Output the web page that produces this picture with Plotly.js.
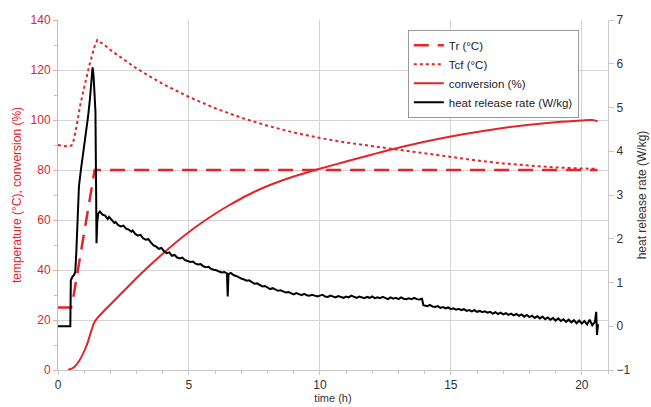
<!DOCTYPE html>
<html><head><meta charset="utf-8">
<script src="https://cdn.plot.ly/plotly-3.0.1.min.js"></script>
<style>html,body{margin:0;padding:0;background:#fff}#c{width:651px;height:407px}</style>
</head><body><div id="c"></div>
<script>
// Tr (°C)
const trT = [0, 0.5, 0.6, 1.4, 20.6];
const trV = [25, 25, 30, 80, 80];
// Tcf (°C)
const tcfT = [0, 0.3, 0.52, 0.6, 0.7, 0.85, 1.0, 1.2, 1.4, 1.5, 1.86, 2, 3, 4, 5, 6, 7, 8, 9, 10, 11, 12, 13, 14, 15, 16, 17, 18, 19, 20, 20.5];
const tcfV = [90, 89.5, 89.8, 92, 97, 106, 113, 122, 129.5, 132, 129.3, 128, 120.6, 114.4, 109.2, 104.7, 100.9, 97.7, 95, 92.8, 91, 89.5, 88, 86.6, 85.2, 83.8, 82.6, 81.7, 81, 80.6, 80.5];
// conversion (%)
const convT = [0.38, 0.6, 0.83, 1.1, 1.4, 1.7, 2, 2.5, 3, 3.5, 4, 4.5, 5, 5.5, 6, 6.5, 7, 7.5, 8, 8.5, 9, 9.5, 10, 11, 12, 13, 14, 15, 16, 17, 18, 19, 20, 20.4, 20.6];
const convV = [0, 1, 4, 10, 19.3, 23, 26.2, 31.5, 36.8, 41.8, 46.5, 51, 55.2, 59, 62.5, 65.7, 68.6, 71.3, 73.6, 75.6, 77.4, 79, 80.5, 83.4, 86.2, 88.9, 91.3, 93.4, 95.2, 96.8, 98.1, 99.1, 99.8, 100, 99.5];
// heat release rate (W/kg)
const hrrT = [0, 0.3, 0.47, 0.49, 0.55, 0.62, 0.66, 0.7, 0.75, 0.8, 0.88, 0.95, 1.05, 1.15, 1.22, 1.28, 1.32, 1.36, 1.4, 1.43, 1.45, 1.47, 1.5, 1.54, 1.6, 1.7, 1.8, 1.9, 1.95, 2.05, 2.15, 2.2, 2.3, 2.4, 2.5, 2.6, 2.7, 2.8, 2.85, 2.95, 3.05, 3.15, 3.25, 3.35, 3.45, 3.55, 3.65, 3.75, 3.85, 3.95, 4.05, 4.15, 4.25, 4.35, 4.45, 4.55, 4.65, 4.75, 4.85, 4.95, 5.05, 5.15, 5.25, 5.35, 5.45, 5.55, 5.65, 5.75, 5.85, 5.95, 6.05, 6.15, 6.25, 6.35, 6.45, 6.48, 6.51, 6.6, 6.7, 6.8, 6.9, 7.0, 7.1, 7.2, 7.3, 7.4, 7.5, 7.6, 7.7, 7.8, 7.9, 8.0, 8.1, 8.2, 8.3, 8.4, 8.5, 8.6, 8.7, 8.8, 8.9, 9.0, 9.1, 9.2, 9.3, 9.4, 9.5, 9.6, 9.7, 9.8, 9.9, 10.0, 10.1, 10.2, 10.3, 10.4, 10.5, 10.6, 10.7, 10.8, 10.9, 11.0, 11.1, 11.2, 11.3, 11.4, 11.5, 11.6, 11.7, 11.8, 11.9, 12.0, 12.1, 12.2, 12.3, 12.4, 12.5, 12.6, 12.7, 12.8, 12.9, 13.0, 13.1, 13.2, 13.3, 13.4, 13.5, 13.6, 13.7, 13.8, 13.9, 13.95, 14.1, 14.2, 14.3, 14.4, 14.5, 14.6, 14.7, 14.8, 14.9, 15.0, 15.1, 15.2, 15.3, 15.4, 15.5, 15.6, 15.7, 15.8, 15.9, 16.0, 16.1, 16.2, 16.3, 16.4, 16.5, 16.6, 16.7, 16.8, 16.9, 17.0, 17.1, 17.2, 17.3, 17.4, 17.5, 17.6, 17.7, 17.8, 17.9, 18.0, 18.1, 18.2, 18.3, 18.4, 18.5, 18.6, 18.7, 18.8, 18.9, 19.0, 19.1, 19.2, 19.3, 19.4, 19.5, 19.6, 19.7, 19.8, 19.9, 20.0, 20.1, 20.2, 20.3, 20.4, 20.5, 20.55, 20.58, 20.62];
const hrrV = [0, 0, 0, 1.05, 1.13, 1.18, 1.25, 1.7, 2.6, 3.2, 3.6, 3.9, 4.3, 4.8, 5.2, 5.6, 5.92, 5.7, 5.2, 4.9, 3.5, 1.9, 2.4, 2.58, 2.62, 2.55, 2.53, 2.45, 2.5, 2.43, 2.36, 2.38, 2.31, 2.28, 2.3, 2.23, 2.21, 2.16, 2.19, 2.11, 2.07, 2.09, 2.01, 1.98, 1.99, 1.91, 1.85, 1.82, 1.77, 1.79, 1.71, 1.67, 1.69, 1.61, 1.63, 1.57, 1.55, 1.57, 1.51, 1.49, 1.47, 1.48, 1.43, 1.41, 1.42, 1.37, 1.35, 1.36, 1.31, 1.29, 1.28, 1.25, 1.23, 1.24, 1.21, 0.68, 1.19, 1.22, 1.17, 1.15, 1.11, 1.09, 1.07, 1.04, 1.05, 1.0, 0.97, 0.98, 0.94, 0.91, 0.92, 0.88, 0.85, 0.87, 0.83, 0.81, 0.82, 0.79, 0.77, 0.78, 0.75, 0.73, 0.76, 0.73, 0.71, 0.74, 0.71, 0.7, 0.72, 0.7, 0.68, 0.7, 0.72, 0.68, 0.67, 0.7, 0.68, 0.66, 0.69, 0.67, 0.65, 0.68, 0.66, 0.7, 0.67, 0.65, 0.68, 0.66, 0.64, 0.67, 0.65, 0.68, 0.64, 0.66, 0.64, 0.67, 0.64, 0.62, 0.66, 0.63, 0.65, 0.62, 0.66, 0.63, 0.62, 0.64, 0.62, 0.65, 0.62, 0.61, 0.63, 0.48, 0.46, 0.49, 0.45, 0.44, 0.46, 0.42, 0.44, 0.41, 0.43, 0.39, 0.41, 0.38, 0.4, 0.37, 0.39, 0.35, 0.37, 0.34, 0.37, 0.33, 0.35, 0.32, 0.34, 0.31, 0.33, 0.29, 0.32, 0.28, 0.31, 0.27, 0.3, 0.26, 0.29, 0.25, 0.28, 0.24, 0.27, 0.22, 0.26, 0.21, 0.24, 0.19, 0.23, 0.18, 0.22, 0.16, 0.2, 0.15, 0.19, 0.13, 0.18, 0.12, 0.16, 0.1, 0.15, 0.09, 0.14, 0.07, 0.13, 0.06, 0.12, 0.04, 0.15, 0.02, 0.1, 0.33, -0.2, 0.05];

const RED = '#e3242b';
const FONT = 'Liberation Sans, Arial, sans-serif';

const traces = [
  {x: trT, y: trV, name: 'Tr (°C)', mode: 'lines', line: {color: RED, width: 2.5, dash: '15px,9px'}},
  {x: tcfT, y: tcfV, name: 'Tcf (°C)', mode: 'lines', line: {color: RED, width: 2, dash: 'dot'}},
  {x: convT, y: convV, name: 'conversion (%)', mode: 'lines', line: {color: RED, width: 2, shape: 'spline', smoothing: 0.8}},
  {x: hrrT, y: hrrV, name: 'heat release rate (W/kg)', mode: 'lines', yaxis: 'y2', line: {color: '#000', width: 2}}
];

const layout = {
  width: 651, height: 407,
  margin: {l: 58, r: 43, t: 20, b: 37},
  paper_bgcolor: '#fff', plot_bgcolor: '#fff',
  font: {family: FONT, size: 12, color: '#333'},
  showlegend: true,
  legend: {x: 0.636, y: 0.972, xanchor: 'left', yanchor: 'top', bgcolor: '#fff', bordercolor: '#999', borderwidth: 1,
           font: {family: FONT, size: 11.5, color: '#222'}, tracegroupgap: 0},
  xaxis: {range: [0, 21], dtick: 5, tick0: 0, showgrid: true, gridcolor: '#d4d4d4', zeroline: false,
          showline: true, linecolor: '#c8c8c8', ticks: 'outside', ticklen: 4, tickcolor: '#c8c8c8',
          minor: {dtick: 1, ticks: 'outside', ticklen: 3, tickcolor: '#c8c8c8', showgrid: false},
          tickfont: {size: 12, color: '#333'},
          title: {text: 'time (h)', font: {size: 11, color: '#333'}, standoff: 2}},
  yaxis: {range: [0, 140], dtick: 20, showgrid: true, gridcolor: '#d4d4d4', zeroline: false,
          showline: true, linecolor: '#f4a7a7', ticks: 'outside', ticklen: 4, tickcolor: '#f4a7a7',
          minor: {dtick: 10, ticks: 'outside', ticklen: 3, tickcolor: '#f4a7a7', showgrid: false},
          tickfont: {size: 12, color: RED},
          title: {text: 'temperature (°C), conversion (%)', font: {size: 12, color: RED}, standoff: 6}},
  yaxis2: {range: [-1, 7], dtick: 1, overlaying: 'y', side: 'right', showgrid: false, zeroline: false,
           showline: true, linecolor: '#c8c8c8', ticks: 'outside', ticklen: 5, tickcolor: '#c8c8c8',
           tickfont: {size: 12, color: '#333'},
           title: {text: 'heat release rate (W/kg)', font: {size: 12, color: '#333'}, standoff: 8}}
};

Plotly.newPlot('c', traces, layout, {displayModeBar: false, staticPlot: true});
</script>
</body></html>
